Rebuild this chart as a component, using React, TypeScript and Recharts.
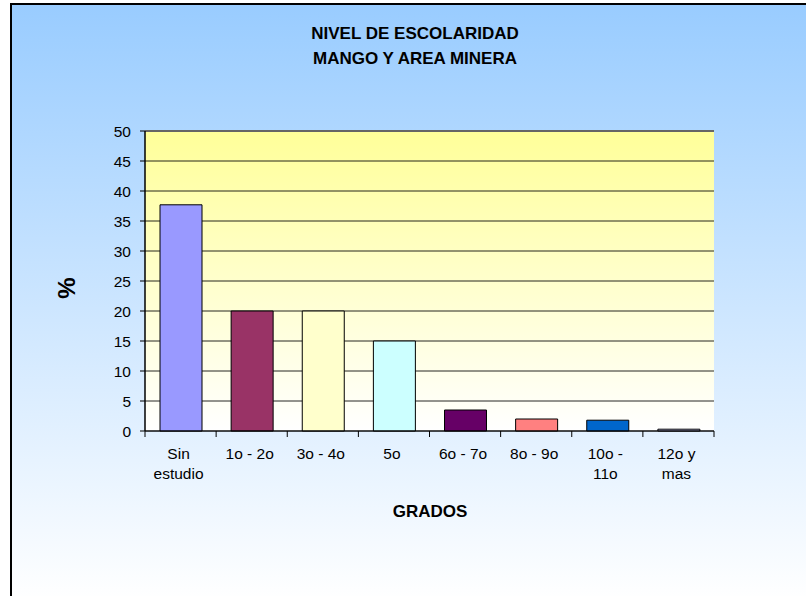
import React from 'react';
import { BarChart, Bar, XAxis, YAxis, CartesianGrid, Cell, ReferenceLine } from 'recharts';

const categories = ['Sin\nestudio', '1o - 2o', '3o - 4o', '5o', '6o - 7o', '8o - 9o', '10o -\n11o', '12o y\nmas'];
const percentages = [37.7, 20, 20, 15, 3.5, 2, 1.8, 0.3];
const barColors = ['#9999ff', '#993366', '#ffffcc', '#ccffff', '#660066', '#ff8080', '#0066cc', '#ccccff'];
const yTicks = [0, 5, 10, 15, 20, 25, 30, 35, 40, 45, 50];

const data = categories.map((c, i) => ({ name: c, value: percentages[i] }));

const W = 806;
const H = 596;
const PLOT_LEFT = 145;
const PLOT_RIGHT = 714;
const PLOT_TOP = 131;
const PLOT_BOTTOM = 431;
const BAND = (PLOT_RIGHT - PLOT_LEFT) / categories.length;
const FONT = '"Liberation Sans", Arial, sans-serif';

const CategoryTick = (props: any) => {
  const { x, y, payload, index } = props;
  const lines = String(payload.value).split('\n');
  const left = x - BAND / 2;
  return (
    <g>
      <line x1={left} y1={y} x2={left} y2={y + 6} stroke="#000" />
      {index === categories.length - 1 && (
        <line x1={x + BAND / 2} y1={y} x2={x + BAND / 2} y2={y + 6} stroke="#000" />
      )}
      <text x={x - 2} y={y + 28} textAnchor="middle" fontSize={15.5} fontFamily={FONT} fill="#000">
        {lines.map((l, i) => (
          <tspan key={i} x={x - 2} dy={i === 0 ? 0 : 20}>{l}</tspan>
        ))}
      </text>
    </g>
  );
};

export default function App() {
  return (
    <div style={{ position: 'fixed', left: 0, top: 0, width: W, height: H, background: '#fff', overflow: 'hidden' }}>
      <div
        style={{
          position: 'absolute', left: 10, top: 3, width: W, height: H,
          borderLeft: '2px solid #000', borderTop: '2px solid #000',
          background: 'linear-gradient(to bottom, #99ccff 0%, #ffffff 100%)',
        }}
      />
      <div style={{ position: 'absolute', left: 0, top: 0 }}>
        <BarChart
          width={W}
          height={H}
          data={data}
          margin={{ top: PLOT_TOP, right: W - PLOT_RIGHT, bottom: H - PLOT_BOTTOM - 60, left: PLOT_LEFT - 45 }}
          barSize={42}
        >
          <defs>
            <linearGradient id="plotFill" x1="0" y1="0" x2="0" y2="1">
              <stop offset="0%" stopColor="#ffff99" />
              <stop offset="100%" stopColor="#ffffff" />
            </linearGradient>
          </defs>
          <CartesianGrid vertical={false} stroke="#000" strokeOpacity={0.85} fill="url(#plotFill)" fillOpacity={1} />
          <XAxis
            dataKey="name"
            height={60}
            interval={0}
            tickLine={false}
            tickSize={0}
            tickMargin={0}
            axisLine={{ stroke: '#000' }}
            tick={<CategoryTick />}
          />
          <YAxis
            width={45}
            domain={[0, 50]}
            ticks={yTicks}
            interval={0}
            tickSize={5}
            tickMargin={9}
            axisLine={{ stroke: '#000', strokeWidth: 1.5 }}
            tickLine={{ stroke: '#000' }}
            tick={{ fontSize: 15.5, fontFamily: FONT, fill: '#000' }}
          />
          <YAxis yAxisId="r" orientation="right" width={0} tick={false} tickLine={false} axisLine={{ stroke: '#808080', strokeWidth: 2 }} />
          <ReferenceLine y={50} stroke="#666" strokeWidth={2} />
          <Bar dataKey="value" stroke="#000" strokeWidth={1} isAnimationActive={false}>
            {data.map((d, i) => (
              <Cell key={d.name} fill={barColors[i]} />
            ))}
          </Bar>
        </BarChart>
      </div>
      <svg width={W} height={H} style={{ position: 'absolute', left: 0, top: 0, pointerEvents: 'none' }}>
        <text x={415} y={39} textAnchor="middle" fontSize={17} fontWeight="bold" fontFamily={FONT} fill="#000">
          NIVEL DE ESCOLARIDAD
        </text>
        <text x={415} y={64} textAnchor="middle" fontSize={17} fontWeight="bold" fontFamily={FONT} fill="#000">
          MANGO Y AREA MINERA
        </text>
        <text
          x={66}
          y={288}
          textAnchor="middle"
          dominantBaseline="central"
          fontSize={24}
          fontWeight="bold"
          fontFamily={FONT}
          fill="#000"
          transform="rotate(-90 66 288)"
        >
          %
        </text>
        <text x={430} y={517} textAnchor="middle" fontSize={17} fontWeight="bold" fontFamily={FONT} fill="#000">
          GRADOS
        </text>
      </svg>
    </div>
  );
}
